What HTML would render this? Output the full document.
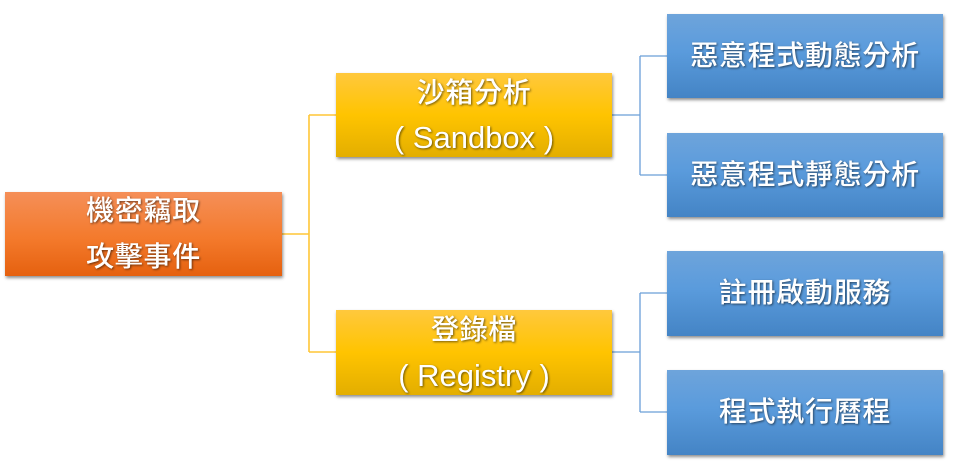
<!DOCTYPE html>
<html><head><meta charset="utf-8"><style>
html,body{margin:0;padding:0;background:#fff}
#c{position:relative;width:955px;height:469px;overflow:hidden;background:#fff;font-family:"Liberation Sans","Noto Sans CJK TC",sans-serif;color:#fff}
.b{position:absolute;box-shadow:1px 2px 3px rgba(0,0,0,.45);}
.t{position:absolute;left:0;right:0;text-align:center;white-space:nowrap;font-size:28px;letter-spacing:.7px;line-height:36px;text-shadow:1px 1px 2px rgba(0,0,0,.55);font-weight:500}
.l{font-size:31px;letter-spacing:0}
.o{left:5px;top:192px;width:277px;height:84px;background:linear-gradient(#f58f58,#f47a2c 55%,#e5610f)}
.y{left:336px;width:276px;height:84px;background:linear-gradient(#ffc83d,#ffc400 50%,#e3ae00)}
.u{left:667px;width:276px;height:84px;background:linear-gradient(#6ea4db,#5a9bdc 45%,#4484c5)}
svg{position:absolute;left:0;top:0}
</style></head><body><div id="c">
<svg width="955" height="469" fill="none">
<path d="M282 234H309M309 115V352M309 115H336M309 352H336" stroke="#ffc637" stroke-width="1.6"/>
<path d="M612 115H640M640 56V175M640 56H667M640 175H667M612 352H640M640 293V412M640 293H667M640 412H667" stroke="#6a9fd8" stroke-width="1.3"/>
</svg>
<div class="b o"><div class="t" style="top:1px">機密竊取</div><div class="t" style="top:47px">攻擊事件</div></div>
<div class="b y" style="top:73px"><div class="t" style="top:2px">沙箱分析</div><div class="t l" style="top:47px">( Sandbox )</div></div>
<div class="b y" style="top:310px;height:85px"><div class="t" style="top:2px">登錄檔</div><div class="t l" style="top:48px">( Registry )</div></div>
<div class="b u" style="top:14px"><div class="t" style="top:24px">惡意程式動態分析</div></div>
<div class="b u" style="top:133px"><div class="t" style="top:24px">惡意程式靜態分析</div></div>
<div class="b u" style="top:251px;height:85px"><div class="t" style="top:24px">註冊啟動服務</div></div>
<div class="b u" style="top:370px;height:85px"><div class="t" style="top:24px">程式執行曆程</div></div>
</div></body></html>
